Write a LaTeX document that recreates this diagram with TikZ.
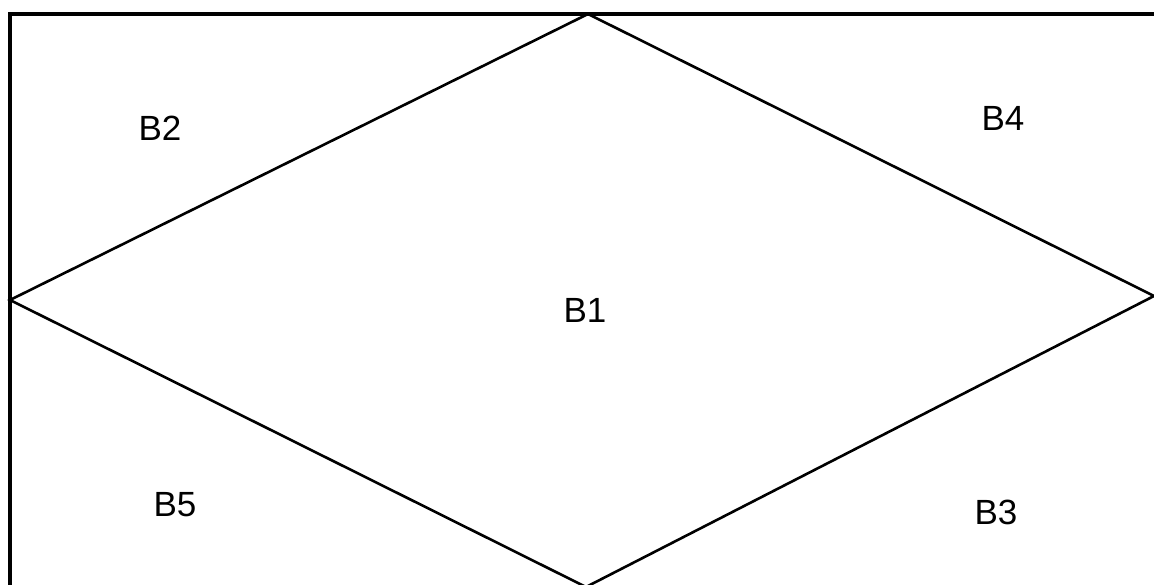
\documentclass[tikz,border=0pt]{standalone}
\usepackage{fontspec}
\setmainfont{Liberation Sans}
\usetikzlibrary{positioning}
\begin{document}
\begin{tikzpicture}[x=1pt,y=-1pt,every node/.style={font=\fontsize{35}{40}\selectfont},
      edge/.style={draw,line width=2.6pt,line join=miter},
      frame/.style={draw,line width=3.4pt}]
    \useasboundingbox (0,0) rectangle (1154,585);
    \coordinate (tl) at (10,14);
    \coordinate (bl) at (10,600);
    \coordinate (tr) at (1170,14);
    \coordinate (top) at (588,14);
    \coordinate (lft) at (10,300);
    \coordinate (rgt) at (1154,296);
    \coordinate (bot) at (586,587);
    \draw[frame] (bl)--(tl)--(tr);
    \draw[edge] (lft)--(top)--(rgt)--(bot)--cycle;
    \node (b1) at (585,310) {B1};
    \node (b2) at (160,128) {B2};
    \node (b3) at (996,512) {B3};
    \node (b4) at (1003,118) {B4};
    \node (b5) at (175,505) {B5};
  \end{tikzpicture}
\end{document}
